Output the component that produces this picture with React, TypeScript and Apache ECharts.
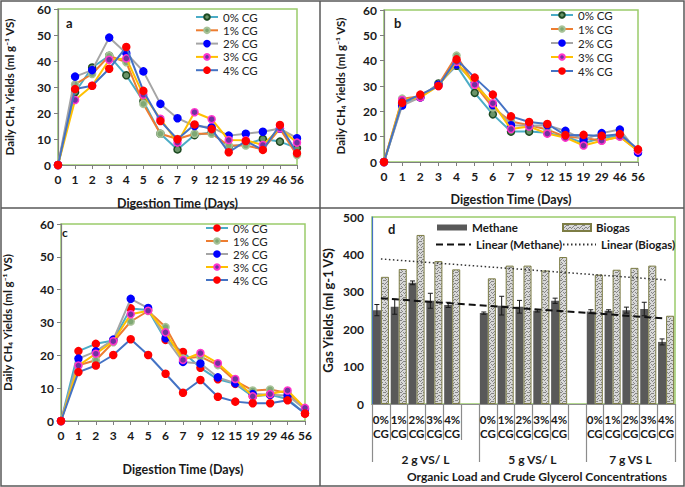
import React, { useEffect, useRef } from "react";
import * as echarts from "echarts";

const FONT = 'Lato, "DejaVu Sans", sans-serif';

// ---- panels a, b, c : daily CH4 yields ----
const days = ["0", "1", "2", "3", "4", "5", "6", "7", "9", "12", "15", "19", "29", "46", "56"];
const seriesNames = ["0% CG", "1% CG", "2% CG", "3% CG", "4% CG"];

const a0 = [0, 28, 37.5, 42, 34.5, 24.5, 12, 6, 11.5, 12.5, 7, 8, 10, 9, 6.5];
const a1 = [0, 31, 35, 42, 39.5, 23.5, 12, 10, 12, 12, 7.5, 7.5, 6, 14, 3.8];
const a2 = [0, 34, 36.5, 49, 43, 36, 23.5, 18, 15, 14.5, 11.3, 12, 12.8, 14, 10.3];
const a3 = [0, 25, 30.5, 40.5, 41, 27, 17.8, 8.6, 20.3, 17.6, 9.6, 9.5, 7.7, 14.1, 8.6];
const a4 = [0, 29.2, 30.5, 37, 45.4, 28.5, 16.9, 9.9, 15.6, 13.8, 4.9, 9.2, 5.8, 15.4, 4.5];

const b0 = [0, 23, 25.5, 31, 38, 27.3, 18.8, 12, 12, 11.5, 10, 7.5, 9.5, 10.5, 4.5];
const b1 = [0, 25, 26, 30.5, 42, 30.5, 21.5, 16, 14.5, 12.8, 10, 9.5, 8.5, 10, 4.5];
const b2 = [0, 22.3, 25.5, 30.5, 38.5, 31.5, 22.5, 14.5, 14.3, 14.5, 12.3, 8.8, 11.4, 12.8, 3.7];
const b3 = [0, 24.5, 25.5, 30, 39.5, 30.5, 23.2, 13, 14, 11.2, 9.6, 6.5, 8.4, 10, 4.5];
const b4 = [0, 23.4, 26.6, 30, 40.5, 33.3, 26.6, 18, 15.8, 15, 10.6, 10.7, 10.3, 11, 5];

const c0 = [0, 21.3, 23.5, 24.5, 34.3, 33.8, 24.7, 21, 16.2, 12.7, 11.3, 7.5, 8, 6.7, 2.3];
const c1 = [0, 17, 18.5, 24, 30.3, 33.5, 28.6, 19, 19.6, 17, 12.2, 9.3, 9.6, 8.5, 3.5];
const c2 = [0, 19, 21.2, 24.8, 37.2, 34.4, 25.2, 18, 17.5, 13.3, 11.5, 8.2, 8, 7.8, 3.7];
const c3 = [0, 16.9, 20.5, 24.3, 32.5, 33.6, 27, 18.6, 20.7, 17.6, 12.8, 7.5, 8.2, 9.3, 4];
const c4 = [0, 14.9, 16.9, 20.1, 24.9, 20.1, 14.4, 8.6, 12.5, 7.4, 5.9, 5.4, 5.4, 6.3, 2.3];

// ---- panel d : gas yields ----
const cgLabels = ["0%", "1%", "2%", "3%", "4%"];
const loadLabels = ["2 g VS/ L", "5 g VS/ L", "7 g VS L"];
const methane = [251, 260, 324, 276, 265, 243, 263, 260, 249, 276, 247, 249, 251, 254, 166];
const methaneErr = [15, 20, 5, 20, 7, 3, 25, 17, 3, 7, 5, 3, 8, 18, 8];
const biogas = [340, 361, 452, 382, 360, 336, 370, 370, 357, 393, 346, 359, 364, 370, 236];

const lineColors = ["#4BACC6", "#ED7D31", "#A5A5A5", "#FFC000", "#4472C4"];
const fillsAB = ["#6a9468", "#7fa874", "#0000FF", "#7030A0", "#FF0000"];
const bordersAB = ["#1d4a22", "#a7c297", "#0000FF", "#FF33CC", "#FF0000"];
const fillsC = ["#FF0000", "#7fa874", "#0000FF", "#7030A0", "#FF0000"];
const bordersC = ["#FF0000", "#a7c297", "#0000FF", "#FF33CC", "#FF0000"];

const yTitle = "Daily CH\u2084 Yields (ml g\u207B\u00B9 VS)";

function lineSeries(idx: number, data: number[][], fills: string[], borders: string[]) {
  return seriesNames.map((n, k) => ({
    type: "line",
    name: n,
    xAxisIndex: idx,
    yAxisIndex: idx,
    data: data[k],
    symbol: "circle",
    symbolSize: 7,
    lineStyle: { color: lineColors[k], width: 2 },
    itemStyle: { color: fills[k], borderColor: borders[k], borderWidth: 1.5 },
    emphasis: { disabled: true },
    z: 2 + k,
  }));
}

const boldText = { fontFamily: FONT, fontWeight: "bold" as const, color: "#1a1a1a" };

function catX(grid: number, nameGap: number) {
  return {
    type: "category",
    gridIndex: grid,
    data: days,
    boundaryGap: false,
    axisLine: { lineStyle: { color: "#7f7f7f", width: 1.2 } },
    axisTick: { show: true, length: 4, interval: 0, lineStyle: { color: "#7f7f7f" } },
    axisLabel: { interval: 0, ...boldText, fontSize: 12, margin: 8 },
    splitLine: { show: false },
    name: "Digestion Time (Days)",
    nameLocation: "middle",
    nameGap,
    nameTextStyle: { ...boldText, fontSize: 12.5 },
  };
}

function valY(grid: number, nameGap: number) {
  return {
    type: "value",
    gridIndex: grid,
    min: 0,
    max: 60,
    interval: 10,
    axisLine: { show: true, lineStyle: { color: "#7f7f7f", width: 1.2 } },
    axisTick: { show: true, length: 4, lineStyle: { color: "#7f7f7f" } },
    axisLabel: { ...boldText, fontSize: 12, margin: 7 },
    splitLine: { show: false },
    name: yTitle,
    nameLocation: "middle",
    nameGap,
    nameTextStyle: { ...boldText, fontSize: 11.5 },
  };
}

function lineLegend(left: number, top: number, gap: number, items?: any[]) {
  return {
    left,
    top,
    orient: "vertical",
    padding: 0,
    itemGap: gap,
    itemWidth: 22,
    itemHeight: 7,
    data: items || seriesNames,
    textStyle: { fontFamily: FONT, fontSize: 11.5, color: "#222", lineHeight: 12 },
    selectedMode: false,
  };
}

function regression(xs: number[], ys: number[]) {
  const n = xs.length;
  const mx = xs.reduce((s, v) => s + v, 0) / n;
  const my = ys.reduce((s, v) => s + v, 0) / n;
  let sxy = 0;
  let sxx = 0;
  xs.forEach((x, i) => {
    sxy += (x - mx) * (ys[i] - my);
    sxx += (x - mx) * (x - mx);
  });
  const b = sxy / sxx;
  return (x: number) => my + b * (x - mx);
}

// fixed speckle texture for the biogas bars
const speckle = [
  [0, 0], [1, 0], [4, 1], [5, 1], [2, 2], [6, 3], [7, 3], [0, 4], [3, 4], [4, 5],
  [1, 6], [6, 6], [2, 7], [5, 7], [7, 0], [3, 1], [1, 3], [5, 4],
];
function makePattern(): any {
  const cv = document.createElement("canvas");
  cv.width = 8;
  cv.height = 8;
  const ctx = cv.getContext("2d");
  if (!ctx) return "#cfcfcf";
  ctx.fillStyle = "#d8d8d8";
  ctx.fillRect(0, 0, 8, 8);
  ctx.fillStyle = "#858585";
  speckle.forEach(([x, y]) => ctx.fillRect(x, y, 1, 1));
  return { image: cv, repeat: "repeat" };
}

export default function App() {
  const ref = useRef<HTMLDivElement>(null);
  useEffect(() => {
    if (!ref.current) return;
    const chart = echarts.init(ref.current, undefined, { renderer: "svg" });

    // panel d categories: 3 groups of 5 with a blank slot between groups
    const slots: number[] = [];
    const dCats: string[] = [];
    loadLabels.forEach((_, g) => {
      cgLabels.forEach((_, i) => slots.push(g * 6 + i));
    });
    for (let s = 0; s < 17; s++) {
      const pos = slots.indexOf(s);
      dCats.push(pos >= 0 ? cgLabels[pos % 5] + "\nCG" : "");
    }
    const methaneSlots: any[] = dCats.map(() => "-");
    const biogasSlots: any[] = dCats.map(() => "-");
    slots.forEach((s, i) => {
      methaneSlots[s] = methane[i];
      biogasSlots[s] = biogas[i];
    });
    const fM = regression(slots, methane);
    const fB = regression(slots, biogas);
    const first = slots[0];
    const last = slots[slots.length - 1];
    const groupCenters = [3, 9, 14.5];
    const pattern = makePattern();

    const option: any = {
      animation: false,
      backgroundColor: "#ffffff",
      grid: [
        { left: 58, top: 9, width: 239, height: 156, show: true, borderColor: "#9BCB6B", borderWidth: 1.5 },
        { left: 384, top: 10, width: 254, height: 152, show: true, borderColor: "#9BCB6B", borderWidth: 1.5 },
        { left: 59, top: 224, width: 246, height: 197, show: true, borderColor: "#9BCB6B", borderWidth: 1.5 },
        { left: 372, top: 217, width: 303, height: 187, show: true, borderColor: "#9BCB6B", borderWidth: 1.5 },
      ],
      xAxis: [
        catX(0, 32),
        catX(1, 31),
        catX(2, 42),
        {
          type: "category",
          gridIndex: 3,
          data: dCats,
          axisLine: { lineStyle: { color: "#8c8c8c", width: 1.2 } },
          axisTick: { show: true, interval: 0, length: 36, lineStyle: { color: "#8c8c8c", width: 1.2 } },
          axisLabel: { interval: 0, ...boldText, fontSize: 11.5, lineHeight: 14, margin: 8 },
          splitLine: { show: false },
        },
        {
          type: "value",
          gridIndex: 3,
          min: 0,
          max: 17,
          position: "bottom",
          offset: 36,
          axisLine: { show: false },
          axisTick: { show: true, length: 22, customValues: [0, 6, 12, 17], lineStyle: { color: "#8c8c8c", width: 1.2 } },
          axisLabel: {
            customValues: groupCenters,
            formatter: (v: number) => loadLabels[groupCenters.indexOf(v)] || "",
            ...boldText,
            fontSize: 12,
            margin: 13,
          },
          splitLine: { show: false },
        },
      ],
      yAxis: [
        valY(0, 43),
        valY(1, 38),
        valY(2, 48),
        {
          type: "value",
          gridIndex: 3,
          min: 0,
          max: 500,
          interval: 100,
          axisLine: { show: true, lineStyle: { color: "#4472C4", width: 1.2 } },
          axisTick: { show: false },
          axisLabel: { ...boldText, fontSize: 12, margin: 8 },
          splitLine: { show: false },
          name: "Gas Yields (ml g-1 VS)",
          nameLocation: "middle",
          nameGap: 38,
          nameTextStyle: { ...boldText, fontSize: 13 },
        },
      ],
      legend: [
        lineLegend(195, 11, 1.3),
        lineLegend(550, 9, 2),
        lineLegend(205, 222, 1, [
          { name: "0% CG", itemStyle: { color: "#FF0000", borderColor: "#FF0000" } },
          "1% CG",
          "2% CG",
          "3% CG",
          "4% CG",
        ]),
        {
          left: 437, top: 221, padding: 0, itemWidth: 30, itemHeight: 6, icon: "rect", data: ["Methane"], selectedMode: false,
          textStyle: { ...boldText, fontSize: 11.5, lineHeight: 13 },
        },
        {
          left: 562, top: 221, padding: 0, itemWidth: 28, itemHeight: 7, icon: "rect", data: ["Biogas"], selectedMode: false,
          textStyle: { ...boldText, fontSize: 11.5, lineHeight: 13 },
        },
        {
          left: 435, top: 238, padding: 0, itemWidth: 35, itemHeight: 6, data: ["Linear (Methane)"], selectedMode: false,
          itemStyle: { color: "rgba(0,0,0,0)", borderWidth: 0 },
          textStyle: { ...boldText, fontSize: 11.5, lineHeight: 13 },
        },
        {
          left: 562, top: 238, padding: 0, itemWidth: 33, itemHeight: 6, data: ["Linear (Biogas)"], selectedMode: false,
          itemStyle: { color: "rgba(0,0,0,0)", borderWidth: 0 },
          textStyle: { ...boldText, fontSize: 11.5, lineHeight: 13 },
        },
      ],
      series: [
        ...lineSeries(0, [a0, a1, a2, a3, a4], fillsAB, bordersAB),
        ...lineSeries(1, [b0, b1, b2, b3, b4], fillsAB, bordersAB),
        ...lineSeries(2, [c0, c1, c2, c3, c4], fillsC, bordersC),
        {
          type: "bar",
          name: "Methane",
          xAxisIndex: 3,
          yAxisIndex: 3,
          data: methaneSlots,
          barGap: "0%",
          barCategoryGap: "10%",
          itemStyle: { color: "#595959" },
          emphasis: { disabled: true },
        },
        {
          type: "bar",
          name: "Biogas",
          xAxisIndex: 3,
          yAxisIndex: 3,
          data: biogasSlots,
          barGap: "0%",
          barCategoryGap: "10%",
          itemStyle: { color: pattern, borderColor: "#7d7d45", borderWidth: 1 },
          emphasis: { disabled: true },
        },
        {
          type: "custom",
          name: "err",
          xAxisIndex: 3,
          yAxisIndex: 3,
          data: slots.map((s, i) => [s, methane[i], methaneErr[i]]),
          encode: { x: 0, y: 1 },
          z: 5,
          renderItem: (params: any, api: any) => {
            const x = api.value(0);
            const v = api.value(1);
            const e = api.value(2);
            const top = api.coord([x, v + e]);
            const bot = api.coord([x, v - e]);
            const band = api.size([1, 0])[0];
            const cx = top[0] - band * 0.225;
            const st = { stroke: "#1a1a1a", lineWidth: 1 };
            return {
              type: "group",
              children: [
                { type: "line", shape: { x1: cx, y1: top[1], x2: cx, y2: bot[1] }, style: st },
                { type: "line", shape: { x1: cx - 2.5, y1: top[1], x2: cx + 2.5, y2: top[1] }, style: st },
                { type: "line", shape: { x1: cx - 2.5, y1: bot[1], x2: cx + 2.5, y2: bot[1] }, style: st },
              ],
            };
          },
        },
        {
          type: "line",
          name: "Linear (Methane)",
          xAxisIndex: 3,
          yAxisIndex: 3,
          data: [
            [first, fM(first)],
            [last, fM(last)],
          ],
          symbol: "none",
          lineStyle: { color: "#111", width: 2, type: [7, 4] },
          itemStyle: { color: "#111" },
          z: 6,
        },
        {
          type: "line",
          name: "Linear (Biogas)",
          xAxisIndex: 3,
          yAxisIndex: 3,
          data: [
            [first, fB(first)],
            [last, fB(last)],
          ],
          symbol: "none",
          lineStyle: { color: "#333", width: 1.5, type: [1.5, 2.5] },
          itemStyle: { color: "#333" },
          z: 6,
        },
      ],
      graphic: [
        { type: "rect", silent: true, shape: { x: 1, y: 1, width: 683, height: 485 }, style: { fill: "none", stroke: "#595959", lineWidth: 1.5 } },
        { type: "line", silent: true, shape: { x1: 320, y1: 1, x2: 320, y2: 486 }, style: { stroke: "#595959", lineWidth: 1.5 } },
        { type: "line", silent: true, shape: { x1: 1, y1: 208, x2: 684, y2: 208 }, style: { stroke: "#595959", lineWidth: 1.5 } },
        { type: "text", left: 66, top: 16, style: { text: "a", fill: "#1a1a1a", font: `bold 13px ${FONT}` } },
        { type: "text", left: 394, top: 16, style: { text: "b", fill: "#1a1a1a", font: `bold 13px ${FONT}` } },
        { type: "text", left: 62, top: 226, style: { text: "c", fill: "#1a1a1a", font: `bold 12px ${FONT}` } },
        { type: "text", left: 388, top: 222, style: { text: "d", fill: "#1a1a1a", font: `bold 13px ${FONT}` } },
        {
          type: "text",
          x: 537,
          y: 476,
          style: { text: "Organic Load and Crude Glycerol Concentrations", fill: "#1a1a1a", font: `bold 12px ${FONT}`, align: "center", verticalAlign: "middle" },
        },
      ],
    };
    chart.setOption(option);
    return () => chart.dispose();
  }, []);
  return <div ref={ref} style={{ position: "fixed", left: 0, top: 0, width: 685, height: 487, background: "#fff" }} />;
}
